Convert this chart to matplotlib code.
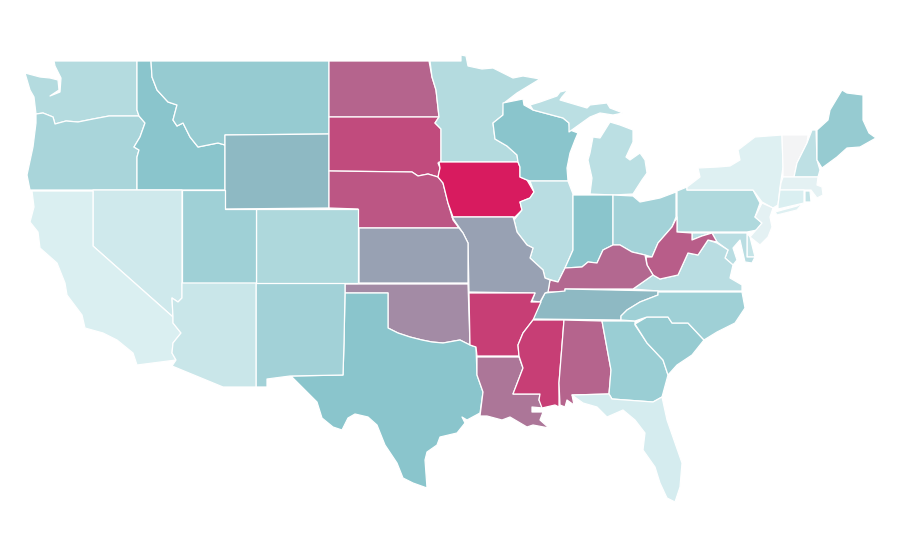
import matplotlib
matplotlib.use("Agg")
import matplotlib.pyplot as plt
from matplotlib.colors import LinearSegmentedColormap
from matplotlib.patches import Polygon

# Estimated value per state, read from the fill shade
values = {
    "WA": 27, "OR": 32, "CA": 11, "NV": 16, "ID": 45, "MT": 40, "WY": 55, "UT": 36, "AZ": 18,
    "CO": 30, "NM": 35, "ND": 79, "SD": 86, "NE": 83, "KS": 62, "OK": 68, "TX": 45, "MN": 27,
    "IA": 100, "MO": 62, "AR": 90, "LA": 74, "WI": 45, "IL": 25, "IN": 45, "MI": 24, "OH": 34,
    "KY": 78, "TN": 55, "MS": 90, "AL": 79, "GA": 38, "FL": 13, "SC": 40, "NC": 36, "VA": 25,
    "WV": 81, "PA": 29, "NY": 9, "VT": 0, "NH": 23, "ME": 40, "MA": 7, "CT": 11, "RI": 21,
    "NJ": 7, "DE": 20, "MD": 25,
}

outlines = {
    "WA": [[(54,61),(137,61),(137,110),(139,116),(109,116),(93,119),(78,122),(66,121),(55,124),(53,117),(43,113),(36,114),(34,97),(30,90),(25,73),(40,77),(50,78),(58,80),(59,90),(50,96),(60,92),(61,78),(55,66)]],
    "OR": [[(36,114),(43,113),(53,117),(55,124),(66,121),(78,122),(93,119),(109,116),(139,116),(145,123),(140,137),(134,147),(139,150),(137,157),(137,190),(30,190),(27,175),(33,147),(36,123)]],
    "ID": [[(137,61),(151,61),(152,77),(157,90),(168,102),(177,105),(173,120),(177,126),(183,123),(190,137),(198,147),(218,143),(225,145),(225,190),(137,190),(137,157),(139,150),(134,147),(140,137),(145,123),(139,116),(137,110)]],
    "MT": [[(151,61),(329,61),(329,134),(225,135),(225,145),(218,143),(198,147),(190,137),(183,123),(177,126),(173,120),(177,105),(168,102),(157,90),(152,77)]],
    "WY": [[(225,135),(329,134),(329,208),(225,209)]],
    "ND": [[(329,61),(429,61),(432,77),(436,90),(439,117),(329,117)]],
    "SD": [[(329,117),(439,117),(435,123),(441,129),(441,162),(438,163),(440,168),(438,177),(428,174),(418,176),(412,172),(329,171)]],
    "NE": [[(329,171),(412,172),(418,176),(428,174),(438,177),(443,183),(448,203),(453,220),(459,228),(358,228),(358,209),(329,208)]],
    "MN": [[(430,61),(461,61),(461,55),(466,56),(468,66),(482,69),(493,68),(503,73),(513,78),(523,76),(540,79),(517,93),(504,103),(503,115),(493,123),(495,139),(507,146),(517,155),(518,162),(441,162),(441,129),(435,123),(439,117),(436,90),(432,77)]],
    "IA": [[(439,162),(518,162),(520,167),(520,177),(527,180),(534,192),(530,198),(520,202),(522,210),(515,217),(453,217),(448,203),(443,183),(438,177),(440,168)]],
    "WI": [[(503,103),(523,99),(524,105),(533,110),(563,118),(569,123),(570,130),(578,133),(575,140),(570,153),(567,168),(568,181),(530,181),(527,180),(520,177),(520,167),(518,162),(517,155),(507,146),(495,139),(493,123),(503,115)]],
    "MI": [[(530,105),(540,102),(557,96),(560,92),(568,90),(562,97),(560,100),(587,108),(590,105),(607,103),(610,108),(623,113),(613,115),(600,113),(590,117),(569,132),(569,123),(563,118),(533,110)],
           [(610,122),(620,125),(633,130),(633,142),(626,157),(630,160),(640,153),(645,160),(647,173),(642,180),(633,194),(613,195),(590,194),(592,178),(588,160),(590,153),(593,137),(600,138),(605,130)]],
    "IL": [[(530,181),(568,181),(573,194),(573,250),(565,268),(558,282),(545,278),(543,270),(530,258),(533,248),(527,245),(517,232),(514,220),(522,210),(520,202),(530,198),(534,192)]],
    "IN": [[(573,195),(613,195),(613,245),(603,250),(597,263),(588,262),(582,267),(565,268),(573,250)]],
    "OH": [[(613,195),(633,196),(640,202),(660,198),(676,192),(676,217),(672,227),(658,243),(652,257),(645,255),(632,252),(620,245),(613,245)]],
    "PA": [[(677,191),(687,187),(687,190),(753,190),(760,203),(755,217),(762,223),(757,230),(747,232),(677,232)]],
    "NY": [[(687,190),(687,187),(700,177),(698,168),(718,167),(730,166),(740,160),(738,150),(755,137),(782,135),(783,167),(780,187),(778,205),(773,208),(762,202),(753,190)],
           [(775,212),(797,206),(803,203),(797,210),(777,215)]],
    "VT": [[(782,135),(808,135),(807,143),(797,163),(794,177),(783,177),(783,167)]],
    "NH": [[(812,130),(816,130),(817,160),(820,170),(818,177),(794,177),(797,163),(807,143)]],
    "ME": [[(817,130),(828,120),(830,110),(842,90),(847,93),(863,95),(863,120),(869,133),(876,138),(860,147),(847,148),(837,157),(822,168),(817,160)]],
    "MA": [[(783,177),(818,177),(817,185),(822,187),(823,195),(817,198),(811,190),(780,190),(781,183)]],
    "CT": [[(780,190),(804,190),(804,203),(778,209),(778,205)]],
    "RI": [[(805,191),(810,191),(811,202),(805,202)]],
    "NJ": [[(762,203),(773,208),(770,217),(772,227),(768,237),(760,245),(750,237),(762,223),(755,217)]],
    "DE": [[(747,233),(750,237),(755,257),(747,257)]],
    "MD": [[(692,233),(747,233),(747,257),(755,257),(752,263),(745,262),(740,240),(733,248),(737,260),(733,265),(725,258),(728,250),(717,242),(712,233),(702,236),(692,240)]],
    "VA": [[(633,289),(653,275),(660,279),(678,275),(688,253),(698,255),(708,240),(717,243),(728,250),(725,258),(733,265),(730,278),(742,285),(742,291),(658,291)]],
    "WV": [[(677,217),(677,232),(692,233),(692,240),(702,236),(712,233),(717,242),(708,240),(698,255),(688,253),(678,275),(660,279),(653,275),(647,265),(646,257),(652,257),(658,243),(672,227)]],
    "KY": [[(548,292),(550,280),(558,282),(565,268),(582,267),(588,262),(597,263),(603,250),(613,245),(620,245),(632,252),(645,255),(647,265),(653,275),(633,289),(565,289),(565,292)]],
    "TN": [[(545,293),(565,291),(565,289),(658,291),(658,295),(640,302),(627,310),(621,316),(621,320),(533,319),(540,303)]],
    "MO": [[(452,217),(513,217),(514,220),(517,232),(527,245),(533,248),(530,258),(543,270),(545,278),(550,280),(548,292),(545,293),(540,302),(532,301),(535,293),(469,292),(468,243),(463,233)]],
    "KS": [[(359,228),(459,228),(463,233),(468,243),(468,283),(359,283)]],
    "OK": [[(345,284),(468,284),(470,345),(460,340),(443,343),(432,342),(422,340),(410,337),(398,333),(388,328),(388,293),(345,293)]],
    "TX": [[(345,293),(388,293),(388,328),(398,333),(410,337),(422,340),(432,342),(443,343),(460,340),(470,345),(476,347),(477,375),(483,392),(480,413),(467,420),(462,417),(465,423),(457,433),(440,437),(437,445),(427,452),(425,460),(427,488),(413,483),(403,478),(397,463),(385,445),(377,425),(368,417),(355,414),(348,418),(342,430),(333,427),(322,418),(317,402),(303,388),(291,376),(343,375),(344,343)]],
    "NM": [[(256,283),(345,283),(345,293),(344,343),(343,375),(290,376),(267,379),(267,387),(256,387)]],
    "CO": [[(256,209),(358,209),(358,283),(256,283)]],
    "UT": [[(182,190),(225,190),(225,209),(256,209),(256,283),(182,283)]],
    "NV": [[(93,190),(182,190),(182,298),(178,302),(172,298),(173,317),(93,246)]],
    "CA": [[(32,191),(93,191),(93,246),(173,317),(173,323),(181,333),(173,343),(172,353),(176,360),(137,365),(133,353),(117,340),(103,333),(85,328),(82,315),(67,295),(65,283),(57,263),(40,248),(38,232),(30,222),(34,207)]],
    "AZ": [[(182,283),(256,283),(256,387),(223,387),(172,366),(176,360),(172,353),(173,343),(181,333),(173,323),(173,317),(172,298),(178,302),(182,298)]],
    "AR": [[(469,293),(535,293),(531,302),(541,302),(533,320),(523,333),(518,345),(519,356),(477,356),(476,347),(470,345)]],
    "LA": [[(477,357),(519,357),(523,368),(513,394),(540,394),(539,400),(543,408),(532,407),(532,412),(543,412),(540,420),(549,428),(533,425),(527,427),(510,417),(502,420),(487,416),(480,416),(483,392),(477,375)]],
    "MS": [[(533,320),(564,320),(559,383),(559,407),(555,405),(542,408),(539,400),(540,394),(513,394),(523,368),(519,356),(518,345),(523,333)]],
    "AL": [[(564,320),(602,321),(611,370),(609,394),(572,395),(574,405),(567,400),(565,407),(560,405),(559,383)]],
    "GA": [[(602,321),(635,321),(635,325),(647,343),(663,360),(668,375),(662,397),(653,402),(612,399),(609,394),(611,370)]],
    "SC": [[(635,324),(647,317),(668,317),(672,323),(688,323),(704,340),(692,355),(677,365),(668,375),(663,360),(647,343)]],
    "NC": [[(658,292),(742,292),(745,308),(735,323),(717,332),(704,340),(688,323),(672,323),(668,317),(647,317),(635,321),(621,320),(621,316),(627,310),(640,302),(658,295)]],
    "FL": [[(572,395),(609,394),(612,399),(653,402),(662,397),(667,420),(682,463),(680,487),(675,502),(667,498),(660,483),(655,467),(643,450),(645,433),(635,420),(623,410),(607,417),(597,407),(583,403)]],
}

# Colour ramp: pale grey, pale teal, teal, slate, then crimson
ramp_stops = [(0.0, "#f3f4f5"), (0.10, "#dcf0f2"), (0.45, "#8ac5cc"), (0.55, "#8eb9c3"), (0.62, "#98a1b3"), (1.0, "#d81b5f")]
ramp = LinearSegmentedColormap.from_list("ramp", ramp_stops)

fig = plt.figure(figsize=(9, 5.6), dpi=100, facecolor="white")
ax = fig.add_axes([0, 0, 1, 1])
ax.set_xlim(0, 900)
ax.set_ylim(560, 0)
ax.axis("off")

for state, parts in outlines.items():
    colour = ramp(values[state] / 100)
    for part in parts:
        ax.add_patch(Polygon(part, closed=True, facecolor=colour, edgecolor="white", linewidth=0.9, joinstyle="round"))

fig.savefig("out.png", dpi=100, facecolor="white")
